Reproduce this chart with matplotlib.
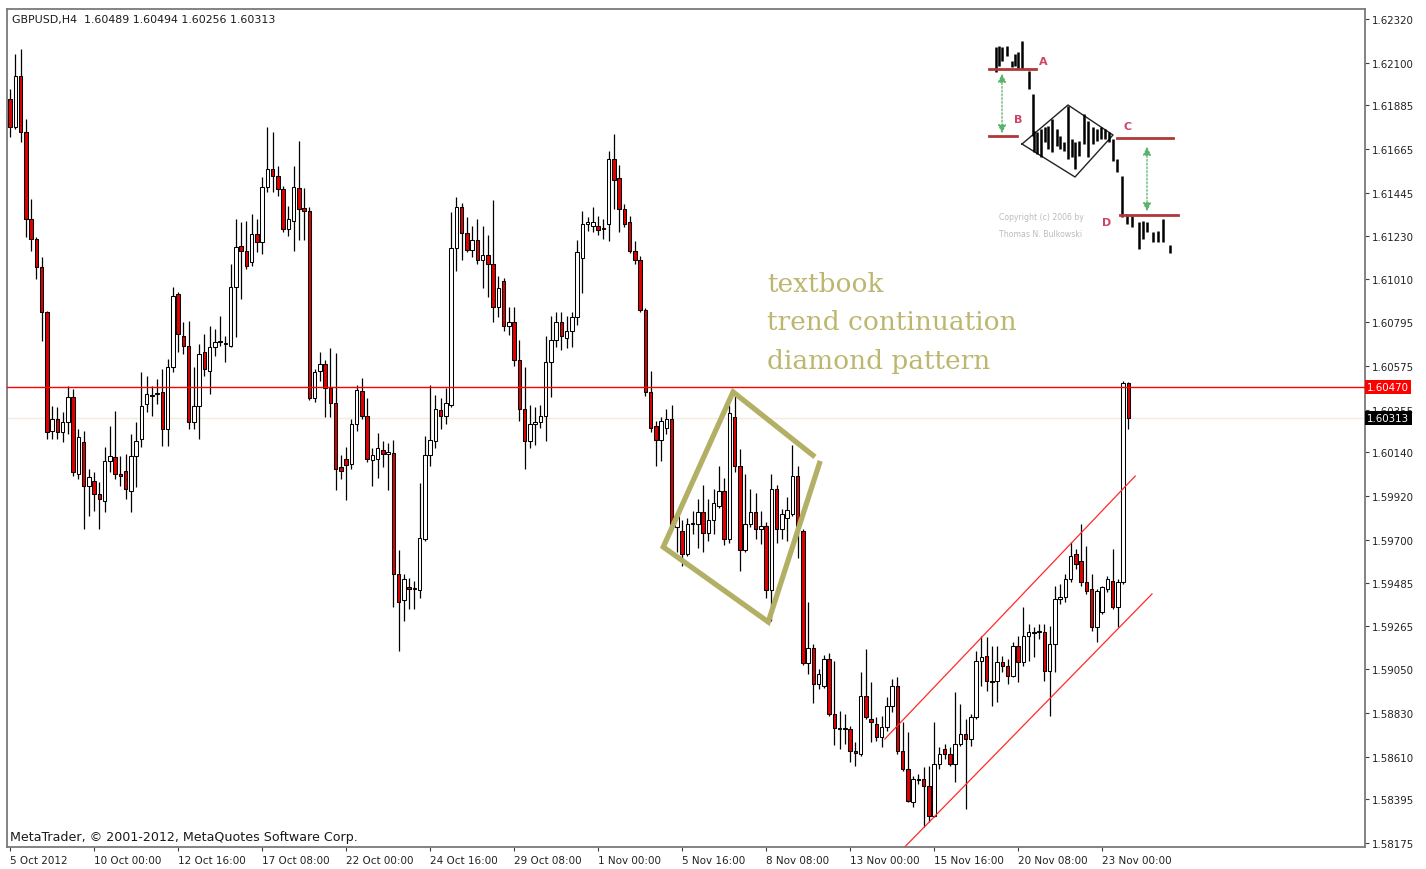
import matplotlib
matplotlib.use("Agg")
import matplotlib.pyplot as plt
from matplotlib.transforms import blended_transform_factory

# ---------------- data ----------------
header_text = "GBPUSD,H4  1.60489 1.60494 1.60256 1.60313"
footer_text = "MetaTrader, \u00a9 2001-2012, MetaQuotes Software Corp."

opens = [
    1.61918, 1.61777, 1.62033, 1.61752, 1.61314, 1.61213, 1.61073, 1.60846, 1.60248, 1.60308,
    1.60243, 1.60293, 1.60419, 1.60031, 1.60192, 1.59971, 1.59996, 1.59931, 1.59896, 1.60097,
    1.60117, 1.60031, 1.60046, 1.59946, 1.60122, 1.60207, 1.60383, 1.60429, 1.60434, 1.60444,
    1.60258, 1.60570, 1.60937, 1.60725, 1.60675, 1.60293, 1.60373, 1.60645, 1.60549, 1.60670,
    1.60695, 1.60685, 1.60675, 1.60972, 1.61178, 1.61153, 1.61098, 1.61238, 1.61198, 1.61475,
    1.61565, 1.61530, 1.61465, 1.61264, 1.61304, 1.61470, 1.61369, 1.61354, 1.60414, 1.60549,
    1.60585, 1.60464, 1.60388, 1.60067, 1.60107, 1.60082, 1.60283, 1.60449, 1.60323, 1.60102,
    1.60107, 1.60152, 1.60132, 1.60137, 1.59528, 1.59398, 1.59463, 1.59453, 1.59448, 1.59704,
    1.60127, 1.60197, 1.60353, 1.60323, 1.60378, 1.61168, 1.61374, 1.61244, 1.61158, 1.61208,
    1.61108, 1.61133, 1.61088, 1.60871, 1.61002, 1.60776, 1.60796, 1.60605, 1.60358, 1.60197,
    1.60283, 1.60293, 1.60323, 1.60595, 1.60705, 1.60796, 1.60715, 1.60751, 1.60821, 1.61118,
    1.61289, 1.61279, 1.61279, 1.61264, 1.61289, 1.61616, 1.61520, 1.61364, 1.61299, 1.61153,
    1.61108, 1.60856, 1.60444, 1.60273, 1.60202, 1.60263, 1.60308, 1.59765, 1.59745, 1.59629,
    1.59780, 1.59780, 1.59840, 1.59735, 1.59800, 1.59870, 1.59946, 1.59704, 1.60318, 1.60072,
    1.59649, 1.59780, 1.59840, 1.59755, 1.59770, 1.59448, 1.59956, 1.59755, 1.59810, 1.59830,
    1.60021, 1.59745, 1.59081, 1.59156, 1.58975, 1.58965, 1.59101, 1.58824, 1.58754, 1.58749,
    1.58749, 1.58638, 1.58623, 1.58915, 1.58799, 1.58774, 1.58708, 1.58759, 1.58864, 1.58965,
    1.58638, 1.58547, 1.58381, 1.58497, 1.58497, 1.58462, 1.58311, 1.58573, 1.58648, 1.58623,
    1.58573, 1.58673, 1.58724, 1.58698, 1.58809, 1.59091, 1.59116, 1.58990, 1.58990, 1.59086,
    1.59066, 1.59015, 1.59166, 1.59086, 1.59216, 1.59237, 1.59237, 1.59237, 1.59040, 1.59176,
    1.59403, 1.59413, 1.59503, 1.59629, 1.59594, 1.59488, 1.59453, 1.59262, 1.59337, 1.59453,
    1.59493, 1.59362, 1.59488, 1.60489,
]
highs = [
    1.61968, 1.62144, 1.62169, 1.61817, 1.61415, 1.61223, 1.61123, 1.60851, 1.60373, 1.60368,
    1.60343, 1.60474, 1.60459, 1.60258, 1.60248, 1.60056, 1.60041, 1.59991, 1.60167, 1.60273,
    1.60348, 1.60122, 1.60132, 1.60233, 1.60293, 1.60544, 1.60524, 1.60474, 1.60509, 1.60560,
    1.60610, 1.60972, 1.60947, 1.60796, 1.60801, 1.60570, 1.60685, 1.60736, 1.60776, 1.60761,
    1.60826, 1.60725, 1.61088, 1.61314, 1.61299, 1.61304, 1.61339, 1.61314, 1.61525, 1.61777,
    1.61752, 1.61581, 1.61480, 1.61379, 1.61581, 1.61706, 1.61470, 1.61374, 1.60560, 1.60645,
    1.60605, 1.60665, 1.60640, 1.60127, 1.60167, 1.60308, 1.60479, 1.60514, 1.60414, 1.60162,
    1.60238, 1.60197, 1.60187, 1.60202, 1.59649, 1.59528, 1.59508, 1.59493, 1.59986, 1.60223,
    1.60479, 1.60429, 1.60414, 1.60464, 1.61349, 1.61425, 1.61394, 1.61324, 1.61279, 1.61314,
    1.61279, 1.61234, 1.61410, 1.61027, 1.61017, 1.60871, 1.60871, 1.60705, 1.60570, 1.60378,
    1.60368, 1.60378, 1.60725, 1.60826, 1.60846, 1.60846, 1.60826, 1.60846, 1.61208, 1.61354,
    1.61324, 1.61374, 1.61329, 1.61314, 1.61656, 1.61742, 1.61586, 1.61389, 1.61329, 1.61203,
    1.61128, 1.60866, 1.60549, 1.60298, 1.60318, 1.60358, 1.60378, 1.59840, 1.59800, 1.59810,
    1.59845, 1.59906, 1.59976, 1.59906, 1.59956, 1.60072, 1.60011, 1.60378, 1.60424, 1.60157,
    1.60031, 1.59956, 1.59936, 1.59845, 1.59790, 1.60031, 1.59976, 1.59855, 1.59916, 1.60177,
    1.60072, 1.59755, 1.59388, 1.59176, 1.59051, 1.59121, 1.59131, 1.59091, 1.58839, 1.58824,
    1.58764, 1.58683, 1.59035, 1.59151, 1.58985, 1.58809, 1.58814, 1.58910, 1.59000, 1.59010,
    1.58784, 1.58734, 1.58512, 1.58522, 1.58558, 1.58563, 1.58784, 1.58658, 1.58673, 1.58658,
    1.58935, 1.58874, 1.58799, 1.58824, 1.59141, 1.59216, 1.59211, 1.59166, 1.59166, 1.59116,
    1.59101, 1.59186, 1.59216, 1.59362, 1.59277, 1.59262, 1.59277, 1.59277, 1.59267, 1.59468,
    1.59478, 1.59528, 1.59689, 1.59654, 1.59780, 1.59669, 1.59528, 1.59453, 1.59468, 1.59518,
    1.59654, 1.59503, 1.60499, 1.60494,
]
lows = [
    1.61726, 1.61767, 1.61701, 1.61223, 1.61153, 1.61012, 1.60700, 1.60207, 1.60207, 1.60207,
    1.60192, 1.60233, 1.60021, 1.60006, 1.59755, 1.59820, 1.59845, 1.59755, 1.59840, 1.60041,
    1.60006, 1.59971, 1.59906, 1.59840, 1.59966, 1.60167, 1.60343, 1.60323, 1.60383, 1.60172,
    1.60172, 1.60544, 1.60645, 1.60635, 1.60258, 1.60258, 1.60207, 1.60524, 1.60434, 1.60625,
    1.60675, 1.60595, 1.60670, 1.60720, 1.60912, 1.61062, 1.61078, 1.61148, 1.61138, 1.61450,
    1.61450, 1.61430, 1.61249, 1.61228, 1.61153, 1.61208, 1.61208, 1.60404, 1.60394, 1.60499,
    1.60318, 1.60318, 1.59951, 1.60006, 1.59901, 1.60056, 1.60248, 1.60308, 1.60092, 1.59971,
    1.60011, 1.60067, 1.59951, 1.59362, 1.59141, 1.59292, 1.59352, 1.59352, 1.59408, 1.59694,
    1.60072, 1.60162, 1.60258, 1.60283, 1.60368, 1.61052, 1.61108, 1.61148, 1.61123, 1.61088,
    1.60967, 1.60922, 1.60796, 1.60821, 1.60751, 1.60731, 1.60575, 1.60298, 1.60056, 1.60162,
    1.60177, 1.60263, 1.60197, 1.60419, 1.60670, 1.60655, 1.60665, 1.60670, 1.60781, 1.60942,
    1.61254, 1.61249, 1.61234, 1.61213, 1.61203, 1.61364, 1.61249, 1.61274, 1.61143, 1.61088,
    1.60846, 1.60424, 1.60243, 1.60072, 1.60097, 1.60233, 1.59755, 1.59639, 1.59569, 1.59619,
    1.59730, 1.59659, 1.59639, 1.59694, 1.59730, 1.59860, 1.59674, 1.59684, 1.60041, 1.59543,
    1.59639, 1.59765, 1.59704, 1.59679, 1.59408, 1.59292, 1.59684, 1.59704, 1.59694, 1.59820,
    1.59609, 1.59071, 1.59025, 1.58879, 1.58950, 1.58955, 1.58814, 1.58668, 1.58648, 1.58673,
    1.58583, 1.58563, 1.58613, 1.58799, 1.58683, 1.58688, 1.58658, 1.58739, 1.58834, 1.58623,
    1.58537, 1.58381, 1.58356, 1.58472, 1.58256, 1.58281, 1.58306, 1.58547, 1.58598, 1.58563,
    1.58482, 1.58663, 1.58346, 1.58663, 1.58799, 1.58965, 1.58940, 1.58864, 1.58885, 1.59035,
    1.58975, 1.59010, 1.58985, 1.59066, 1.59091, 1.59111, 1.59201, 1.58990, 1.58814, 1.59035,
    1.59378, 1.59388, 1.59488, 1.59553, 1.59468, 1.59428, 1.59242, 1.59186, 1.59327, 1.59438,
    1.59352, 1.59262, 1.59478, 1.60256,
]
closes = [
    1.61777, 1.62033, 1.61752, 1.61314, 1.61213, 1.61073, 1.60846, 1.60243, 1.60308, 1.60243,
    1.60293, 1.60419, 1.60041, 1.60217, 1.59971, 1.60016, 1.59931, 1.59906, 1.60097, 1.60122,
    1.60031, 1.60021, 1.59956, 1.60122, 1.60197, 1.60373, 1.60434, 1.60424, 1.60439, 1.60258,
    1.60570, 1.60927, 1.60735, 1.60675, 1.60293, 1.60373, 1.60635, 1.60560, 1.60670, 1.60695,
    1.60700, 1.60690, 1.60972, 1.61173, 1.61153, 1.61078, 1.61238, 1.61198, 1.61475, 1.61565,
    1.61530, 1.61465, 1.61264, 1.61314, 1.61475, 1.61364, 1.61354, 1.60414, 1.60544, 1.60585,
    1.60464, 1.60388, 1.60056, 1.60046, 1.60077, 1.60283, 1.60454, 1.60323, 1.60107, 1.60127,
    1.60162, 1.60132, 1.60142, 1.59528, 1.59387, 1.59503, 1.59453, 1.59458, 1.59709, 1.60127,
    1.60202, 1.60358, 1.60323, 1.60388, 1.61168, 1.61374, 1.61244, 1.61158, 1.61208, 1.61108,
    1.61133, 1.61088, 1.60871, 1.60967, 1.60776, 1.60796, 1.60605, 1.60358, 1.60197, 1.60283,
    1.60293, 1.60323, 1.60595, 1.60705, 1.60796, 1.60725, 1.60751, 1.60821, 1.61148, 1.61289,
    1.61299, 1.61299, 1.61259, 1.61269, 1.61616, 1.61510, 1.61364, 1.61289, 1.61153, 1.61108,
    1.60856, 1.60444, 1.60263, 1.60202, 1.60298, 1.60308, 1.59765, 1.59820, 1.59629, 1.59780,
    1.59785, 1.59840, 1.59735, 1.59800, 1.59886, 1.59946, 1.59704, 1.60338, 1.60072, 1.59649,
    1.59780, 1.59840, 1.59755, 1.59770, 1.59448, 1.59956, 1.59755, 1.59830, 1.59850, 1.60021,
    1.59755, 1.59081, 1.59156, 1.58975, 1.59025, 1.59101, 1.58824, 1.58754, 1.58749, 1.58754,
    1.58638, 1.58628, 1.58915, 1.58809, 1.58784, 1.58708, 1.58759, 1.58864, 1.58965, 1.58638,
    1.58547, 1.58387, 1.58497, 1.58492, 1.58462, 1.58311, 1.58573, 1.58623, 1.58623, 1.58573,
    1.58673, 1.58724, 1.58698, 1.58809, 1.59091, 1.59111, 1.58990, 1.58985, 1.59086, 1.59066,
    1.59015, 1.59166, 1.59086, 1.59216, 1.59237, 1.59232, 1.59242, 1.59040, 1.59176, 1.59403,
    1.59413, 1.59503, 1.59619, 1.59579, 1.59488, 1.59443, 1.59262, 1.59443, 1.59463, 1.59503,
    1.59362, 1.59488, 1.60489, 1.60313,
]

date_label_bars = [0, 16, 32, 48, 64, 80, 96, 112, 128, 144, 160, 176, 192, 208]
date_labels = ["5 Oct 2012", "10 Oct 00:00", "12 Oct 16:00", "17 Oct 08:00", "22 Oct 00:00",
               "24 Oct 16:00", "29 Oct 08:00", "1 Nov 00:00", "5 Nov 16:00", "8 Nov 08:00",
               "13 Nov 00:00", "15 Nov 16:00", "20 Nov 08:00", "23 Nov 00:00"]
price_tick_labels = ["1.62320", "1.62100", "1.61885", "1.61665", "1.61445", "1.61230", "1.61010",
                     "1.60795", "1.60575", "1.60355", "1.60140", "1.59920", "1.59700", "1.59485",
                     "1.59265", "1.59050", "1.58830", "1.58610", "1.58395", "1.58175"]

level_price = 1.60470
bid_price = 1.60313

channel_upper_bars = [166.6, 214.3]
channel_upper_prices = [1.58698, 1.60021]
channel_lower_bars = [170.4, 217.5]
channel_lower_prices = [1.58155, 1.59428]

diamond_bars = [153.3, 137.7, 124.4, 144.4, 154.3]
diamond_prices = [1.60117, 1.60444, 1.59664, 1.59287, 1.60097]

annotation_lines = ["textbook", "trend continuation", "diamond pattern"]

# inset (Bulkowski textbook sketch), local picture units
inset_bar_x = [36, 39, 42, 47, 52, 55, 58, 62, 69, 73,
               74, 77, 81, 85, 88, 92, 97, 100, 104, 108, 112, 115, 119, 124, 128, 133, 137, 141, 145, 149, 153,
               157, 162, 167, 172, 179, 183, 187, 193, 198, 203, 210]
inset_bar_top = [18, 17, 18, 17, 32, 25, 23, 12, 42, 65,
                 102, 103, 100, 98, 97, 90, 100, 107, 113, 77, 110, 113, 112, 85, 92, 98, 100, 98, 100, 103, 110,
                 130, 147, 185, 187, 193, 192, 193, 203, 202, 190, 216]
inset_bar_bottom = [43, 37, 32, 27, 38, 37, 40, 40, 60, 107,
                    123, 125, 128, 113, 120, 123, 117, 120, 122, 130, 128, 140, 127, 115, 128, 115, 112, 110, 110, 113, 132,
                    143, 188, 195, 198, 220, 210, 203, 213, 213, 213, 224]
inset_levels = {"A": ((29, 76), 40, (83, 32)),
                "B": ((29, 57), 107, (58, 90)),
                "C": ((157, 213), 109, (168, 97)),
                "D": ((160, 218), 186, (147, 193))}
inset_arrows = [(42, 42, 107), (187, 115, 185)]
inset_diamond_x = [62, 108, 153, 115, 62]
inset_diamond_y = [115, 76, 106, 148, 115]
inset_copyright = ["Copyright (c) 2006 by", "Thomas N. Bulkowski"]

# ---------------- figure ----------------
W, H = 1426, 870
fig = plt.figure(figsize=(W / 100, H / 100), dpi=100)
fig.patch.set_facecolor("white")

ax_l, ax_r, ax_t, ax_b = 7, 1365, 10, 848
ax = fig.add_axes([ax_l / W, 1 - ax_b / H, (ax_r - ax_l) / W, (ax_b - ax_t) / H])
ax.set_facecolor("white")

px_per_bar = 5.25
x0 = -0.6
ax.set_xlim(x0, x0 + (ax_r - ax_l) / px_per_bar)
s = (1.62320 - 1.58175) / 824.0
ax.set_ylim(1.58175 - 4 * s, 1.62320 + 10 * s)

xs = list(range(len(opens)))
bodies_bottom = [min(o, c) for o, c in zip(opens, closes)]
bodies_height = [max(abs(c - o), 0.000004) for o, c in zip(opens, closes)]
body_colors = ["white" if c >= o else "#e00000" for o, c in zip(opens, closes)]

ax.axhline(bid_price, color="#f5ebdd", lw=1.0, zorder=1)
ax.vlines(xs, lows, highs, color="black", lw=0.9, zorder=2)
ax.bar(xs, bodies_height, bottom=bodies_bottom, width=0.64, color=body_colors,
       edgecolor="black", linewidth=0.75, zorder=3)

ax.axhline(level_price, color="#ff0000", lw=1.0, zorder=4)
ax.plot(channel_upper_bars, channel_upper_prices, color="#ff2a2a", lw=0.9, zorder=4)
ax.plot(channel_lower_bars, channel_lower_prices, color="#ff2a2a", lw=0.9, zorder=4)
ax.plot(diamond_bars, diamond_prices, color="#b3b065", lw=3.8, zorder=5,
        solid_joinstyle="miter", solid_capstyle="butt")

# axes styling
for sp in ax.spines.values():
    sp.set_color("#7a7a7a")
    sp.set_linewidth(1.3)
ax.yaxis.tick_right()
ax.set_yticks([float(t) for t in price_tick_labels])
ax.set_yticklabels(price_tick_labels)
ax.set_xticks(date_label_bars)
ax.set_xticklabels(date_labels, ha="left")
ax.tick_params(axis="y", direction="out", length=3, width=0.8, color="#404040",
               labelsize=7.4, pad=2, labelcolor="#222222")
ax.tick_params(axis="x", direction="out", length=3, width=0.8, color="#404040",
               labelsize=7.5, pad=3, labelcolor="#222222")

tr = blended_transform_factory(ax.transAxes, ax.transData)
ax.text(1.0016, level_price, "1.60470", transform=tr, fontsize=7.4, color="white",
        va="center", ha="left", clip_on=False, zorder=10,
        bbox=dict(boxstyle="square,pad=0.22", fc="#ff0000", ec="none"))
ax.text(1.0016, bid_price, "1.60313", transform=tr, fontsize=7.4, color="white",
        va="center", ha="left", clip_on=False, zorder=10,
        bbox=dict(boxstyle="square,pad=0.22", fc="black", ec="none"))

# header / footer text
fig.text(12 / W, 1 - 20 / H, header_text, fontsize=7.9, color="#1a1a1a", va="center", ha="left")
fig.text(10 / W, 1 - 838 / H, footer_text, fontsize=9.1, color="#1a1a1a", va="center", ha="left")

# annotation
for k, line in enumerate(annotation_lines):
    fig.text(767 / W, 1 - (292 + 38.5 * k) / H, line, fontsize=19, color="#bdb66e",
             family="DejaVu Serif", va="baseline", ha="left")

# ---------------- inset sketch ----------------
ix, iy, iw, ih = 960, 30, 230, 240
axi = fig.add_axes([ix / W, 1 - (iy + ih) / H, iw / W, ih / H])
axi.set_xlim(0, iw)
axi.set_ylim(ih, 0)
axi.axis("off")
axi.patch.set_alpha(0)
axi.plot(inset_diamond_x, inset_diamond_y, color="#222222", lw=1.0)
axi.vlines(inset_bar_x, inset_bar_top, inset_bar_bottom, color="black", lw=1.8)
for name, ((xa, xb), yv, (tx, ty)) in inset_levels.items():
    axi.plot([xa, xb], [yv, yv], color="#b03838", lw=2.0)
    axi.text(tx, ty, name, color="#cc4466", fontsize=8, fontweight="bold", ha="center", va="center")
for (xa, ya, yb) in inset_arrows:
    axi.annotate("", xy=(xa, yb), xytext=(xa, ya),
                 arrowprops=dict(arrowstyle="<|-|>,head_length=0.5,head_width=0.25",
                                 color="#59b36a", lw=0.9, linestyle=(0, (1.5, 1.5))))
axi.text(81, 188, inset_copyright[0], fontsize=5.6, color="#bcbcbc", ha="center", va="center")
axi.text(81, 205, inset_copyright[1], fontsize=5.6, color="#bcbcbc", ha="center", va="center")

fig.savefig("out.png", dpi=100)
